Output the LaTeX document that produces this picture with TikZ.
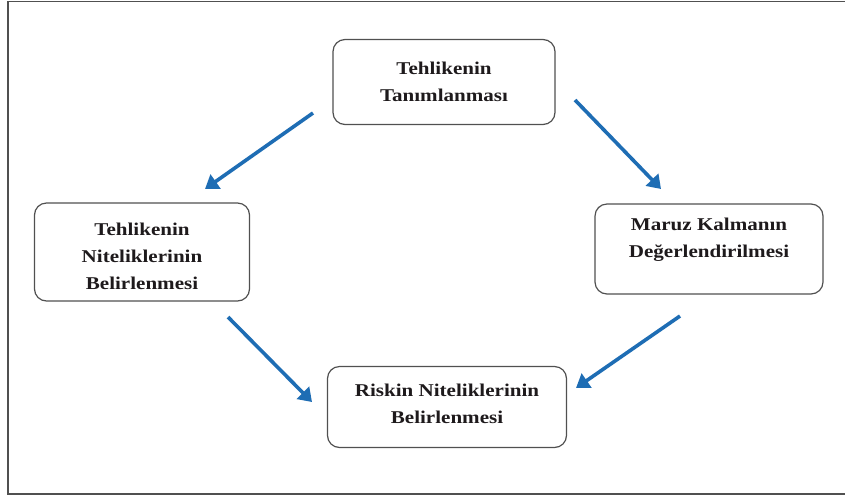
\documentclass[tikz,border=0pt]{standalone}
\usepackage{fontspec}
\setmainfont{Liberation Serif}
\newfontfamily\boxfont[FakeStretch=1.17]{Liberation Serif}
\usetikzlibrary{arrows.meta}
\definecolor{arrowblue}{HTML}{1E6DB4}
\definecolor{boxline}{HTML}{505050}
\definecolor{txt}{HTML}{1E1A1C}
\tikzset{
  stepbox/.style={draw=boxline, line width=1.2pt, rounded corners=12pt, fill=white, inner sep=0pt},
  steptext/.style={align=center, font=\boxfont\bfseries\fontsize{18}{27}\selectfont, text=txt, inner sep=0pt},
  flow/.style={draw=arrowblue, line width=3.6pt, -{Triangle[length=13pt,width=17pt]}},
}
\begin{document}
\begin{tikzpicture}[x=1pt,y=-1pt]
\useasboundingbox (0,0) rectangle (845,499);
\fill[white] (0,0) rectangle (845,499);
\draw[boxline, line width=1.3pt] (846,1.5) -- (8,1.5) -- (8,494) -- (846,494);

\node[stepbox, minimum width=222pt, minimum height=85pt] (top) at (444,82) {};
\node[steptext] (toptxt) at (444,82) {Tehlikenin\\Tanımlanması};

\node[stepbox, minimum width=215pt, minimum height=98pt] (left) at (142,252) {};
\node[steptext] (lefttxt) at (142,256) {Tehlikenin\\Niteliklerinin\\Belirlenmesi};

\node[stepbox, minimum width=228pt, minimum height=90pt] (right) at (709,249) {};
\node[steptext] (righttxt) at (709,240) {Maruz Kalmanın\\Değerlendirilmesi};

\node[stepbox, minimum width=239pt, minimum height=81pt] (bottom) at (447,407) {};
\node[steptext] (bottomtxt) at (447,404) {Riskin Niteliklerinin\\Belirlenmesi};

\coordinate (a1s) at (313,113); \coordinate (a1e) at (205,189);
\coordinate (a2s) at (575,100); \coordinate (a2e) at (661,189);
\coordinate (a3s) at (228,317); \coordinate (a3e) at (312,402);
\coordinate (a4s) at (680,316); \coordinate (a4e) at (576,388);
\draw[flow] (a1s) -- (a1e);
\draw[flow] (a2s) -- (a2e);
\draw[flow] (a3s) -- (a3e);
\draw[flow] (a4s) -- (a4e);
\end{tikzpicture}
\end{document}
